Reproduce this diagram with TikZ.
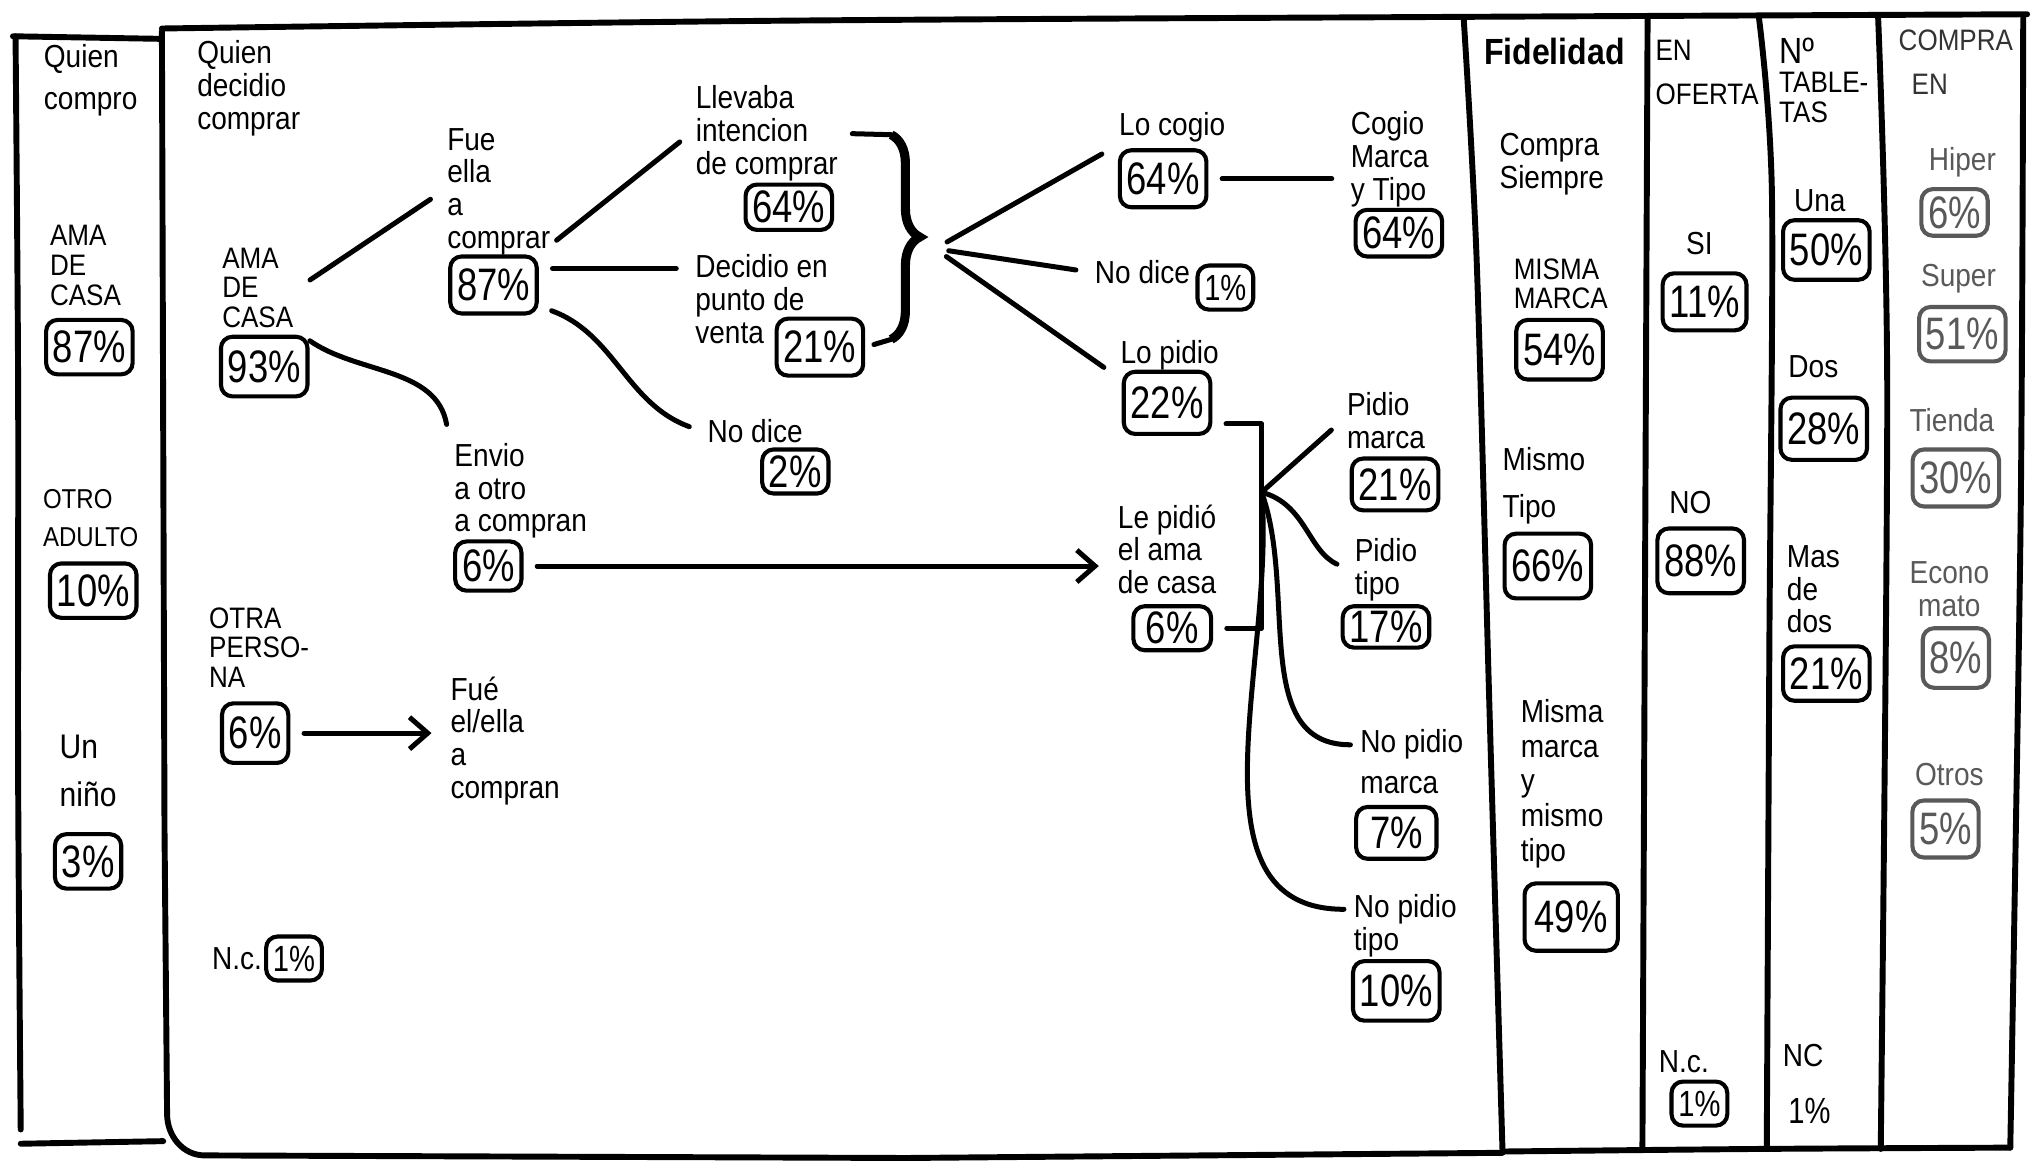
\documentclass[tikz,border=0pt]{standalone}
\usepackage{fontspec}
\setmainfont{Liberation Sans}[FakeStretch=0.88]
\newfontfamily\pctfont{Liberation Sans}[FakeStretch=0.8]
\usepackage{tikz}
\usetikzlibrary{arrows.meta}
\usetikzlibrary{decorations.pathreplacing}
\tikzset{>={Straight Barb[length=4pt,width=7pt]}}
\tikzset{
  frame/.style={line width=1.3pt,line cap=round,line join=round},
  conn/.style={line width=1.1pt,line cap=round,line join=round},
  gap/.style={shorten <=3pt,shorten >=3pt},
  lbl/.style={align=left,inner sep=1pt,font=\fontsize{7}{7.2}\selectfont},
  caps/.style={align=left,inner sep=1pt,font=\fontsize{6.5}{6.5}\selectfont},
  pct/.style={draw,line width=0.9pt,rounded corners=2.5pt,inner xsep=1.5pt,inner ysep=1pt,
    minimum height=4.2mm,font=\pctfont\fontsize{10}{10}\selectfont},
  spct/.style={pct,minimum height=3.4mm,font=\pctfont\fontsize{8}{8}\selectfont},
  pale/.style={text=black!65},
  palebox/.style={pct,draw=black!65,text=black!65},
  bracestroke/.style={decorate,decoration={brace,amplitude=2.2mm},line width=2pt}
}

\begin{document}
\begin{tikzpicture}[x=0.1mm,y=0.1mm]
  \useasboundingbox (0,0) rectangle (1568,-902);

  % frames
  \draw[frame] (10,-28) -- (125,-30);
  \draw[frame] plot[smooth] coordinates {(12,-28) (14,-300) (14,-600) (16,-872)};
  \draw[frame] (16,-883) -- (126,-881);
  \draw[frame] plot[smooth] coordinates {(125,-22) (600,-16) (1130,-13) (1565,-11)};
  \draw[frame] (125,-24) -- (127,-640) -- (129,-860) to[out=-90,in=180] (158,-892) -- (700,-894) -- (1160,-890);
  \draw[frame] plot[smooth] coordinates {(1130,-14) (1140,-200) (1150,-550) (1160,-889)};
  \draw[frame] plot[smooth] coordinates {(1272,-14) (1270,-450) (1268,-887)};
  \draw[frame] plot[smooth] coordinates {(1358,-14) (1368,-150) (1366,-500) (1364,-887)};
  \draw[frame] plot[smooth] coordinates {(1450,-14) (1457,-300) (1452,-887)};
  \draw[frame] plot[smooth] coordinates {(1562,-12) (1560,-400) (1552,-886)};
  \draw[frame] plot[smooth] coordinates {(1160,-889) (1360,-887) (1552,-886)};

  % quien compro
  \draw node[lbl] (c1head) at (70,-62) {Quien\\[2pt]compro};
  \draw node[caps] (c1ama) at (66,-205) {AMA\\DE\\CASA};
  \draw node[pct] (p1ama) at (69,-268) {87\%};
  \draw node[caps,font=\fontsize{6}{6.5}\selectfont] (c1otro) at (70,-400) {OTRO\\[2pt]ADULTO};
  \draw node[pct] (p1otro) at (72,-456) {10\%};
  \draw node[lbl,font=\fontsize{7.5}{7.5}\selectfont] (c1nino) at (68,-595) {Un\\[3pt]niño};
  \draw node[pct] (p1nino) at (68,-665) {3\%};

  % quien decidio comprar
  \draw node[lbl] (c2head) at (192,-68) {Quien\\decidio\\comprar};
  \draw node[caps] (c2ama) at (199,-222) {AMA\\DE\\CASA};
  \draw node[pct,minimum height=4.6mm] (p2ama) at (204,-283) {93\%};
  \draw node[caps] (c2otra) at (200,-500) {OTRA\\PERSO-\\NA};
  \draw node[pct,minimum height=4.6mm] (p2otra) at (197,-566) {6\%};
  \draw node[lbl] (c2nc) at (183,-740) {N.c.};
  \draw node[spct] (p2nc) at (227,-740) {1\%};
  \draw node[lbl] (fueel) at (390,-572) {Fué\\el/ella\\a\\compran};

  \draw node[lbl] (fue) at (385,-148) {Fue\\ella\\a\\comprar};
  \draw node[pct,minimum height=4.4mm] (p2fue) at (381,-220) {87\%};
  \draw node[lbl] (envio) at (402,-379) {Envio\\a otro\\a compran};
  \draw node[pct,minimum height=3.8mm] (p2envio) at (377,-437) {6\%};

  \draw node[lbl] (llev) at (592,-103) {Llevaba\\intencion\\de comprar};
  \draw node[pct,minimum height=3.5mm] (p2llev) at (609,-160) {64\%};
  \draw node[lbl] (decid) at (588,-231) {Decidio en\\punto de\\venta};
  \draw node[pct,minimum height=4.4mm] (p2dec) at (633,-268) {21\%};
  \draw node[lbl] (nodice2) at (583,-333) {No dice};
  \draw node[pct,minimum height=3.4mm] (p2nod) at (614,-364) {2\%};

  \draw node[lbl] (locogio) at (905,-98) {Lo cogio};
  \draw node[pct,minimum height=4.4mm] (p3cog) at (898,-138) {64\%};
  \draw node[lbl] (cogio) at (1073,-123) {Cogio\\Marca\\y Tipo};
  \draw node[pct,minimum height=3.6mm] (p3cogmt) at (1080,-180) {64\%};
  \draw node[lbl] (nodice1) at (882,-210) {No dice};
  \draw node[spct] (p3nod) at (946,-222) {1\%};
  \draw node[lbl] (lopidio) at (903,-274) {Lo pidio};
  \draw node[pct,minimum height=4.8mm] (p3pid) at (901,-311) {22\%};
  \draw node[lbl] (lepidio) at (901,-424) {Le pidió\\el ama\\de casa};
  \draw node[pct,minimum height=3.4mm,minimum width=6mm] (p3lep) at (905,-485) {6\%};

  \draw node[lbl] (pidm) at (1070,-325) {Pidio\\marca};
  \draw node[pct,minimum height=4mm] (p4pm) at (1077,-374) {21\%};
  \draw node[lbl] (pidt) at (1070,-440) {Pidio\\tipo};
  \draw node[pct,minimum height=3.2mm] (p4pt) at (1070,-484) {17\%};
  \draw node[lbl] (nopm) at (1090,-588) {No pidio\\[2pt]marca};
  \draw node[pct,minimum height=4mm,minimum width=6.2mm] (p4npm) at (1078,-643) {7\%};
  \draw node[lbl] (nopt) at (1085,-715) {No pidio\\tipo};
  \draw node[pct,minimum height=4.6mm] (p4npt) at (1078,-765) {10\%};

  % connectors of the tree
  \draw[conn,gap] (c2ama.east) -- (fue.west);
  \draw[conn,gap] (c2ama.south east) to[out=-35,in=100] (envio.north west);
  \draw[->,conn,gap] (p2otra.east) -- (p2otra.east -| fueel.west);
  \draw[conn,gap,shorten <=5pt] (p2fue.north east) -- (llev.west);
  \draw[conn,gap] (p2fue.20) -- (p2fue.20 -| decid.west);
  \draw[conn,gap] (p2fue.-25) to[out=-20,in=160] (nodice2.west);
  \draw[->,conn,gap] (p2envio.east) -- (p2envio.east -| lepidio.west);

  \coordinate (bt) at (688,-104);
  \coordinate (bb) at (688,-262);
  \coordinate (fan) at (722,-192);
  \draw[conn,shorten <=2pt] (llev.east) -- (bt);
  \draw[conn,shorten <=2pt] (p2dec.east) -- (bb);
  \draw[bracestroke] (bt) -- (bb);
  \draw[conn,gap] (fan) -- (locogio.south west);
  \draw[conn,gap] (fan) -- (nodice1.west);
  \draw[conn,gap] (fan) -- (lopidio.south west);

  \draw[conn,gap] (p3cog.east) -- (p3cog.east -| cogio.west);
  \coordinate (brk) at (974,-380);
  \draw[conn,shorten <=3pt] (p3pid.-25) -| (brk);
  \draw[conn,shorten >=3pt] (brk) |- (p3lep.east);
  \draw[conn,shorten >=3pt] (brk) -- (pidm.west);
  \draw[conn,shorten >=3pt] (brk) to[out=-15,in=155] (pidt.west);
  \draw[conn,shorten >=1pt] (brk) to[out=-70,in=180] ([yshift=1.3mm]nopm.west);
  \draw[conn,shorten >=1pt] (brk) to[out=-85,in=180] ([yshift=1.3mm]nopt.west);

  % fidelidad
  \draw node[lbl,font=\bfseries\fontsize{8}{8}\selectfont] (fidhead) at (1200,-40) {Fidelidad};
  \draw node[lbl] (fsiem) at (1198,-127) {Compra\\Siempre};
  \draw node[caps] (fmm) at (1205,-219) {MISMA\\MARCA};
  \draw node[pct,minimum height=4.6mm] (p5mm) at (1204,-270) {54\%};
  \draw node[lbl] (fmt) at (1192,-375) {Mismo\\[3pt]Tipo};
  \draw node[pct,minimum height=5mm] (p5mt) at (1195,-437) {66\%};
  \draw node[lbl,font=\fontsize{7}{7.6}\selectfont] (fmym) at (1206,-605) {Misma\\marca\\y\\mismo\\tipo};
  \draw node[pct,minimum height=5.2mm,minimum width=7.2mm] (p5mym) at (1213,-708) {49\%};

  % en oferta
  \draw node[caps] (ofhead) at (1318,-56) {EN\\[3pt]OFERTA};
  \draw node[lbl] (ofsi) at (1312,-188) {SI};
  \draw node[pct,minimum height=4.4mm] (p6si) at (1316,-233) {11\%};
  \draw node[lbl] (ofno) at (1305,-388) {NO};
  \draw node[pct,minimum height=5mm] (p6no) at (1313,-433) {88\%};
  \draw node[lbl] (ofnc) at (1300,-820) {N.c.};
  \draw node[spct] (p6nc) at (1312,-852) {1\%};

  % tabletas
  \draw node[caps] (tbhead) at (1408,-62) {{\fontsize{8}{8}\selectfont Nº}\\TABLE-\\TAS};
  \draw node[lbl] (tbuna) at (1405,-155) {Una};
  \draw node[pct,minimum height=4.6mm] (p7una) at (1410,-193) {50\%};
  \draw node[lbl] (tbdos) at (1400,-283) {Dos};
  \draw node[pct,minimum height=4.8mm] (p7dos) at (1408,-331) {28\%};
  \draw node[lbl] (tbmas) at (1400,-455) {Mas\\de\\dos};
  \draw node[pct] (p7mas) at (1410,-520) {21\%};
  \draw node[lbl] (tbnc) at (1392,-815) {NC};
  \draw node[spct,draw=none] (tbone) at (1397,-858) {1\%};

  % compra en
  \draw node[caps,text=black!80] (cphead) at (1510,-48) {COMPRA\\[3pt]\hspace*{1mm}EN};
  \draw node[lbl,pale] (cphiper) at (1515,-125) {Hiper};
  \draw node[palebox,minimum height=3.6mm] (p8hip) at (1509,-164) {6\%};
  \draw node[lbl,pale] (cpsuper) at (1512,-215) {Super};
  \draw node[palebox] (p8sup) at (1515,-258) {51\%};
  \draw node[lbl,pale] (cptienda) at (1507,-324) {Tienda};
  \draw node[palebox,minimum height=4.4mm] (p8tie) at (1510,-369) {30\%};
  \draw node[lbl,pale,align=center] (cpeco) at (1505,-455) {Econo\\mato};
  \draw node[palebox,minimum height=4.6mm] (p8eco) at (1510,-508) {8\%};
  \draw node[lbl,pale] (cpotros) at (1505,-598) {Otros};
  \draw node[palebox,minimum height=4.4mm] (p8otr) at (1502,-640) {5\%};

\end{tikzpicture}
\end{document}
